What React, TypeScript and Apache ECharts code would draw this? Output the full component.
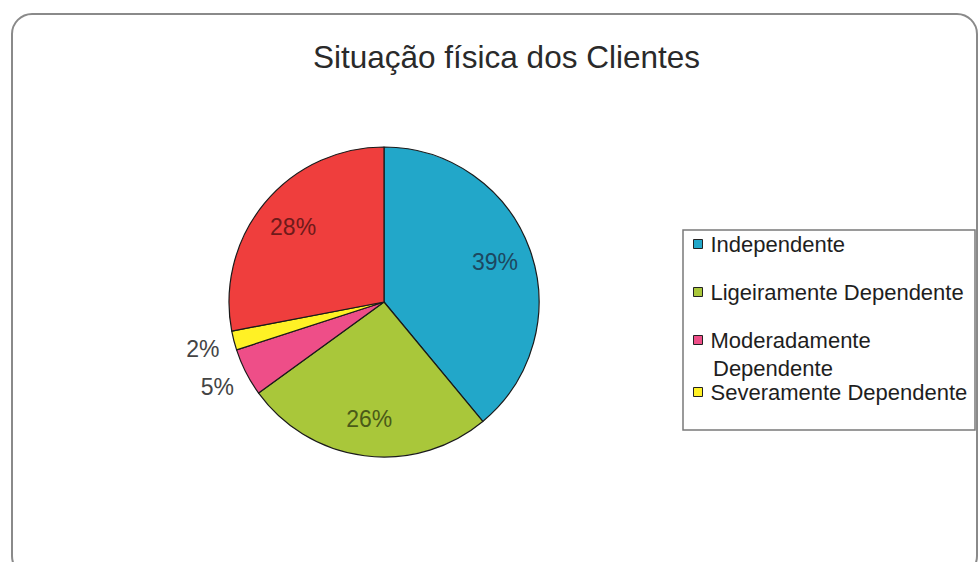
import React, { useEffect, useRef } from "react";
import * as echarts from "echarts";

const titleText = "Situação física dos Clientes";
const categories = [
  "Independente",
  "Ligeiramente Dependente",
  "Moderadamente Dependente",
  "Severamente Dependente",
  "Totalmente Dependente",
];
const values = [39, 26, 5, 2, 28];
const sliceColors = ["#22A7C9", "#A9C73A", "#EE4E88", "#FFF125", "#EF3E3D"];
const labelColors = ["#1d4760", "#4a5a18", "#444444", "#444444", "#6e1a1a"];
const legendNames = ["Independente", "Ligeiramente Dependente", "Moderadamente Dependente", "Severamente Dependente"];
const legendLabels = ["Independente", "Ligeiramente Dependente", "Moderadamente", "Severamente Dependente"];
const legendSecondLine = "Dependente";
const legendTops = [230, 278, 326, 378];

export default function App() {
  const ref = useRef<HTMLDivElement>(null);
  useEffect(() => {
    if (!ref.current) return;
    const chart = echarts.init(ref.current, undefined, { renderer: "svg" });
    const font = "'Liberation Sans', Arial, sans-serif";
    const center = [384, 302];

    const mainData = categories.map((n, i) => ({
      name: n,
      value: values[i],
      itemStyle: { color: sliceColors[i] },
    }));
    const innerData = categories.map((n, i) => ({
      name: n,
      value: values[i],
      label: { show: values[i] >= 10, color: labelColors[i] },
    }));
    const outerData = categories.map((n, i) => ({
      name: n,
      value: values[i],
      label: { show: values[i] < 10, color: labelColors[i] },
    }));

    const legends = legendNames.map((n, i) => ({
      data: [n],
      left: 693,
      top: legendTops[i],
      padding: 0,
      orient: "vertical",
      icon: "rect",
      itemWidth: 9,
      itemHeight: 9,
      itemGap: 4,
      selectedMode: false,
      itemStyle: { borderColor: "#222", borderWidth: 1 },
      formatter: () => legendLabels[i],
      textStyle: {
        fontFamily: font,
        fontSize: 22,
        color: "#1e1e1e",
        lineHeight: 28,
        padding: [0, 0, 0, 3],
      },
    }));

    chart.setOption({
      animation: false,
      backgroundColor: "#ffffff",
      title: {
        text: titleText,
        left: 313,
        top: 41,
        padding: 0,
        textStyle: { fontFamily: font, fontSize: 31.5, fontWeight: "normal", color: "#2a2a2a" },
      },
      legend: legends,
      graphic: [
        {
          type: "rect",
          z: -10,
          shape: { x: 12, y: 14, width: 965, height: 562, r: 20 },
          style: { fill: "none", stroke: "#8a8a8a", lineWidth: 2 },
        },
        {
          type: "rect",
          z: -10,
          shape: { x: 683, y: 230, width: 292, height: 200 },
          style: { fill: "none", stroke: "#7a7a7a", lineWidth: 1.5 },
        },
        {
          type: "text",
          left: 713,
          top: 368 - 11,
          style: {
            text: legendSecondLine,
            fontFamily: font,
            fontSize: 22,
            fill: "#1e1e1e",
          },
        },
      ],
      series: [
        {
          type: "pie",
          z: 1,
          center,
          radius: 155,
          startAngle: 90,
          clockwise: true,
          silent: true,
          label: { show: false },
          labelLine: { show: false },
          itemStyle: { borderColor: "#1a1a1a", borderWidth: 1.2 },
          emphasis: { disabled: true },
          data: mainData,
        },
        {
          type: "pie",
          z: 5,
          center,
          radius: [0, 230],
          startAngle: 90,
          clockwise: true,
          silent: true,
          itemStyle: { color: "rgba(0,0,0,0)", borderWidth: 0 },
          label: {
            position: "inside",
            fontFamily: font,
            fontSize: 23,
            formatter: (p: any) => p.value + "%",
          },
          labelLine: { show: false },
          emphasis: { disabled: true },
          data: innerData,
        },
        {
          type: "pie",
          z: 5,
          center,
          radius: [0, 368],
          startAngle: 90,
          clockwise: true,
          silent: true,
          itemStyle: { color: "rgba(0,0,0,0)", borderWidth: 0 },
          label: {
            position: "inside",
            fontFamily: font,
            fontSize: 23,
            formatter: (p: any) => p.value + "%",
          },
          labelLine: { show: false },
          emphasis: { disabled: true },
          data: outerData,
        },
      ],
    });
    return () => chart.dispose();
  }, []);
  return (
    <div
      ref={ref}
      style={{ position: "fixed", left: 0, top: 0, width: 979, height: 562 }}
    />
  );
}
